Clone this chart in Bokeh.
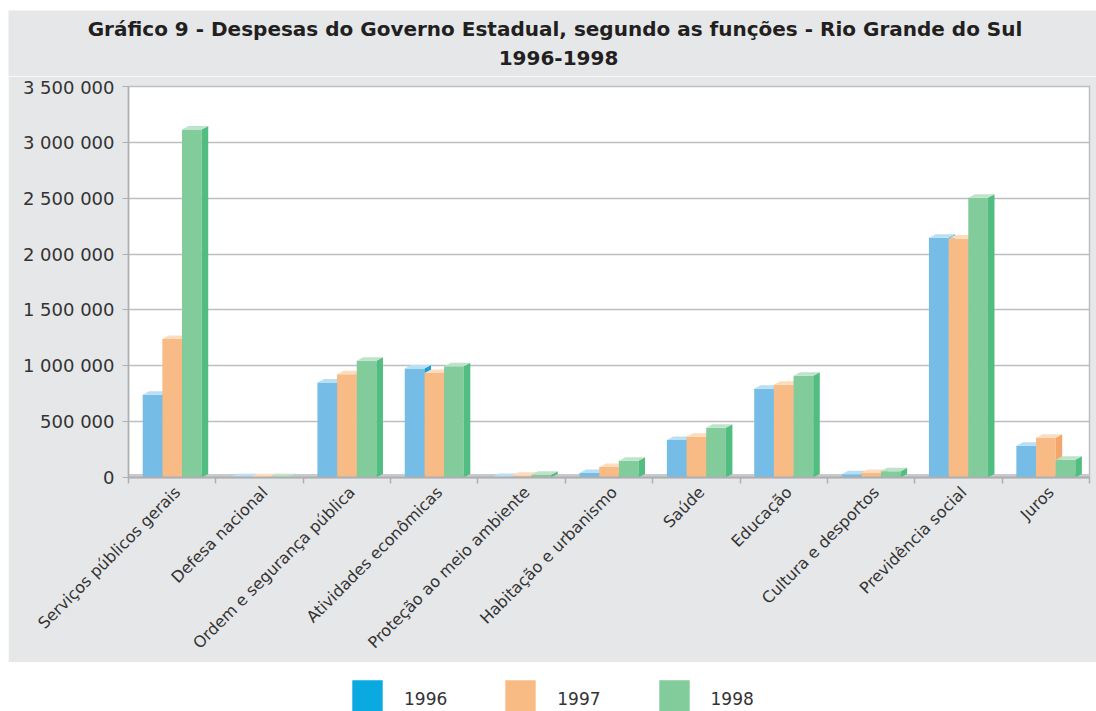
import math
from bokeh.plotting import figure
from bokeh.models import (Range1d, FixedTicker, CustomJSTickFormatter,
                          Legend, LegendItem, BoxAnnotation)
from bokeh.core.properties import value
from bokeh.layouts import column
from bokeh.embed import file_html
from bokeh.resources import INLINE

# ---------------- data ----------------
categories = [
    "Serviços públicos gerais", "Defesa nacional", "Ordem e segurança pública",
    "Atividades econômicas", "Proteção ao meio ambiente", "Habitação e urbanismo",
    "Saúde", "Educação", "Cultura e desportos", "Previdência social", "Juros",
]
years = ["1996", "1997", "1998"]
v1996 = [740000, 2000, 850000, 975000, 5000, 40000, 335000, 795000, 30000, 2145000, 285000]
v1997 = [1240000, 3000, 925000, 935000, 15000, 95000, 365000, 830000, 40000, 2140000, 355000]
v1998 = [3115000, 3000, 1045000, 995000, 25000, 150000, 445000, 910000, 55000, 2505000, 160000]
y_ticks = [0, 500000, 1000000, 1500000, 2000000, 2500000, 3000000, 3500000]
title_line1 = "Gráfico 9 - Despesas do Governo Estadual, segundo as funções -  Rio Grande do Sul"
title_line2 = "1996-1998"

# ---------------- style ----------------
FONT = "DejaVu Sans"
BG = "#E6E7E9"
FRONT = ["#75BDE7", "#F9BB85", "#82CB9B"]
TOP = ["#BADFF5", "#FDDBBD", "#BDE4CA"]
SIDE = ["#169FDA", "#F4A66A", "#52BD80"]
LEGEND_FRONT = ["#0AA9E0", "#F9BB84", "#82CB9B"]
GRID = "#BDBEC1"
AXIS = "#AEAFB2"
TXT = "#333333"
W = 1088
BL, BR = 120, 7

YMAX = y_ticks[-1]
n = len(categories)


def strip(height, bg):
    f = figure(width=W, height=height, x_range=Range1d(0, W), y_range=Range1d(0, height),
               x_axis_location=None, y_axis_location=None, min_border=0,
               toolbar_location=None, output_backend="svg",
               background_fill_color=bg, border_fill_color=bg, outline_line_color=None)
    if "frame_align" in f.properties():
        f.frame_align = False
    f.grid.visible = False
    return f


# ---------------- title strip ----------------
tf = strip(66, BG)
tf.text(x=[550, 550], y=[48, 19], text=[title_line1, title_line2],
        text_align="center", text_baseline="middle", text_font=value(FONT),
        text_font_style="bold", text_font_size="20px", text_color="#231F20")

# ---------------- main chart ----------------
p = figure(width=W, height=586, x_range=Range1d(0, n), y_range=Range1d(0, YMAX),
           output_backend="svg", toolbar_location=None,
           min_border_left=BL, min_border_right=BR, min_border_top=10, min_border_bottom=184,
           background_fill_color="white", border_fill_color=BG,
           outline_line_color=GRID, outline_line_width=1.5)
p.title.visible = False

dy = YMAX * 3.5 / 391.0
p.add_layout(BoxAnnotation(bottom=0, top=dy, fill_color="#C9CACD", fill_alpha=1,
                           line_color=None, level="underlay"))

series = [v1996, v1997, v1998]
bw = 0.225
offsets = [-0.225, 0.0, 0.225]
dx = 0.075
for s, vals in enumerate(series):
    xc = [i + 0.5 + offsets[s] for i in range(n)]
    p.vbar(x=xc, top=vals, width=bw, fill_color=FRONT[s], line_color=None)
    side_xs = [[x + bw / 2, x + bw / 2 + dx, x + bw / 2 + dx, x + bw / 2] for x in xc]
    side_ys = [[0, dy, v + dy, v] for v in vals]
    p.patches(side_xs, side_ys, fill_color=SIDE[s], line_color=None)
    top_xs = [[x - bw / 2, x - bw / 2 + dx, x + bw / 2 + dx, x + bw / 2] for x in xc]
    top_ys = [[v, v + dy, v + dy, v] for v in vals]
    p.patches(top_xs, top_ys, fill_color=TOP[s], line_color=None)

p.yaxis.ticker = FixedTicker(ticks=y_ticks)
p.yaxis.formatter = CustomJSTickFormatter(
    code="return Math.round(tick).toString().replace(/\\B(?=(\\d{3})+(?!\\d))/g, ' ');")
p.yaxis.major_label_text_font = FONT
p.yaxis.major_label_text_font_size = "18px"
p.yaxis.major_label_text_color = TXT
p.yaxis.axis_line_color = AXIS
p.yaxis.axis_line_width = 1.5
p.yaxis.major_tick_line_color = AXIS
p.yaxis.major_tick_in = 0
p.yaxis.major_tick_out = 6
p.yaxis.minor_tick_line_color = None
p.yaxis.major_label_standoff = 8

label_shift = 0.06
p.xaxis.ticker = FixedTicker(ticks=[i + 0.5 + label_shift for i in range(n)],
                             minor_ticks=list(range(n + 1)))
p.xaxis.formatter = CustomJSTickFormatter(
    args=dict(labels=categories),
    code="const i = Math.floor(tick); return (i >= 0 && i < labels.length) ? labels[i] : '';")
p.xaxis.major_label_orientation = math.pi / 4
p.xaxis.major_label_text_font = FONT
p.xaxis.major_label_text_font_size = "16px"
p.xaxis.major_label_text_color = TXT
p.xaxis.major_tick_line_color = None
p.xaxis.major_tick_in = 0
p.xaxis.major_tick_out = 0
p.xaxis.minor_tick_line_color = AXIS
p.xaxis.minor_tick_in = 0
p.xaxis.minor_tick_out = 6
p.xaxis.minor_tick_line_width = 1.5
p.xaxis.axis_line_color = AXIS
p.xaxis.axis_line_width = 2
p.xaxis.major_label_standoff = 6

p.xgrid.visible = False
p.ygrid.ticker = FixedTicker(ticks=y_ticks)
p.ygrid.grid_line_color = GRID
p.ygrid.grid_line_width = 1.5

# ---------------- legend strip ----------------
lg = strip(49, "white")
lg.x_range = Range1d(0, 1)
lg.y_range = Range1d(0, 1)
items = []
for s, yr in enumerate(years):
    r = lg.rect(x=[-10], y=[-10], width=1, height=1, fill_color=LEGEND_FRONT[s], line_color=None)
    items.append(LegendItem(label=yr, renderers=[r]))
leg = Legend(items=items, orientation="horizontal", location=(340, -12),
             glyph_width=38, glyph_height=48, label_standoff=18, spacing=54,
             padding=0, margin=0, border_line_color=None, background_fill_alpha=0,
             label_text_font=FONT, label_text_font_size="17px", label_text_color=TXT,
             label_text_baseline="top")
lg.add_layout(leg)

layout = column(tf, p, lg, margin=(10, 0, 0, 8))
open("out.html", "w").write(file_html(layout, INLINE))
